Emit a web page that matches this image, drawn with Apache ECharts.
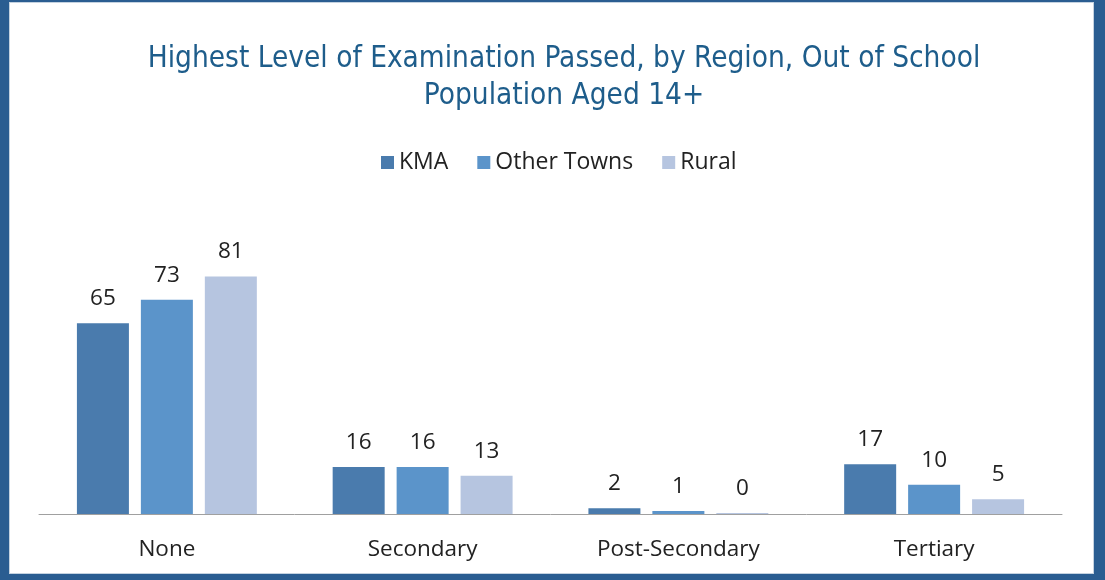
<!DOCTYPE html>
<html>
<head>
<meta charset="utf-8">
<script src="https://cdn.jsdelivr.net/npm/echarts@6/dist/echarts.min.js"></script>
<style>
  html, body { margin: 0; padding: 0; }
  body { width: 1105px; height: 580px; background: #2A5D91; position: relative; overflow: hidden; }
  #chart { position: absolute; left: 9px; top: 2px; width: 1083px; height: 570px; background: #ffffff; border: 1px solid #c4d2e0; }
</style>
</head>
<body>
<div id="chart"></div>
<script>
// Exam level categories and share (%) by region
const categories = ['None', 'Secondary', 'Post-Secondary', 'Tertiary'];
const kma = [65, 16, 2, 17];
const otherTowns = [73, 16, 1, 10];
const rural = [81, 13, 0, 5];
const seriesNames = ['KMA', 'Other Towns', 'Rural'];
const colors = ['#4A7BAD', '#5B94CA', '#B6C5E0'];

const chart = echarts.init(document.getElementById('chart'));
const labelFont = '"Open Sans", "DejaVu Sans", sans-serif';

function bar(name, data, color) {
  return {
    name: name,
    type: 'bar',
    data: data,
    barWidth: 52,
    barGap: '23%',
    barMinHeight: 1,
    itemStyle: { color: color },
    label: {
      show: true,
      position: 'top',
      distance: 13,
      color: '#222',
      fontFamily: labelFont,
      fontSize: 22.5
    }
  };
}

chart.setOption({
  animation: false,
  title: {
    text: 'Highest Level of Examination Passed, by Region, Out of School\nPopulation Aged 14+',
    left: 549,
    top: 33,
    textAlign: 'center',
    textStyle: {
      color: '#1E5D8B',
      fontFamily: '"Liberation Sans Narrow", "DejaVu Sans Condensed", sans-serif',
      fontWeight: 'normal',
      fontSize: 29.5,
      lineHeight: 37
    }
  },
  legend: {
    data: seriesNames,
    left: 366,
    top: 143,
    itemWidth: 13,
    itemHeight: 13,
    itemGap: 29,
    icon: 'rect',
    textStyle: { color: '#222', fontFamily: labelFont, fontSize: 23 }
  },
  grid: { left: 29, right: 31, top: 247, bottom: 59 },
  xAxis: {
    type: 'category',
    data: categories,
    axisTick: { show: false },
    axisLine: { lineStyle: { color: '#A0A0A0', width: 1 } },
    axisLabel: { color: '#222', fontFamily: labelFont, fontSize: 22.5, margin: 24 }
  },
  yAxis: {
    type: 'value',
    min: 0,
    max: 90,
    interval: 10,
    show: false,
    splitLine: { show: false }
  },
  series: [
    bar(seriesNames[0], kma, colors[0]),
    bar(seriesNames[1], otherTowns, colors[1]),
    bar(seriesNames[2], rural, colors[2])
  ]
});
</script>
</body>
</html>
